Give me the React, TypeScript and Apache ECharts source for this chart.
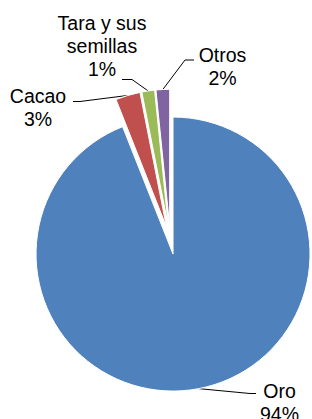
import React, { useEffect, useRef } from 'react';
import * as echarts from 'echarts';

const categories = ['Oro', 'Cacao', 'Tara y sus semillas', 'Otros'];
const shares = [94.0, 2.9, 1.5, 1.6];
const colors = ['#4F81BD', '#C0504D', '#9BBB59', '#8064A2'];

// label text box (center x, top y) and leader line bend / end points
const labelBoxes = [
  { x: 279.5, y: 379.5, bend: [250, 393.5], end: [256, 393.5] },
  { x: 38, y: 84.5, bend: [80, 101.5], end: [73, 101.5] },
  { x: 102, y: 11.5, bend: [132, 79.5], end: [122, 79.5] },
  { x: 222.5, y: 43.5, bend: [185, 60], end: [194, 60] },
];

const RADIUS = 137;
const EXPLODE = 14;
const BASE_CENTER = [170.4, 240.3];
const FONT = 'Arial, "Liberation Sans", sans-serif';

export default function App() {
  const ref = useRef<HTMLDivElement>(null);
  useEffect(() => {
    if (!ref.current) return;
    const chart = echarts.init(ref.current, undefined, { renderer: 'svg' });
    const total = shares.reduce((a, b) => a + b, 0);
    let cum = 0;
    const mids = shares.map((v) => {
      const m = ((cum + v / 2) / total) * Math.PI * 2;
      cum += v;
      return m;
    });
    const series = categories.map((_, i) => {
      const a = mids[i];
      const cx = BASE_CENTER[0] + EXPLODE * Math.sin(a);
      const cy = BASE_CENTER[1] - EXPLODE * Math.cos(a);
      const start = [cx + RADIUS * Math.sin(a), cy - RADIUS * Math.cos(a)];
      const lb = labelBoxes[i];
      return {
        type: 'pie',
        center: [cx, cy],
        radius: RADIUS,
        startAngle: 90,
        clockwise: true,
        avoidLabelOverlap: false,
        percentPrecision: 0,
        silent: true,
        emphasis: { disabled: true },
        label: {
          show: true,
          position: 'outside',
          color: '#000',
          fontSize: 19.5,
          lineHeight: 23,
          fontFamily: FONT,
          align: 'center',
          formatter: (p: any) =>
            p.name.replace('Tara y sus ', 'Tara y sus\n') + '\n' + p.percent + '%',
        },
        labelLine: { show: true, smooth: false, lineStyle: { color: '#000', width: 1 } },
        labelLayout: (p: any) =>
          p.dataIndex === i
            ? {
                x: lb.x,
                y: lb.y,
                align: 'center',
                verticalAlign: 'top',
                labelLinePoints: [start, lb.bend, lb.end],
              }
            : {},
        data: categories.map((name, j) => ({
          name,
          value: shares[j],
          itemStyle:
            j === i
              ? { color: colors[j], borderColor: '#fff', borderWidth: 1 }
              : { color: 'rgba(0,0,0,0)', borderWidth: 0 },
          label: { show: j === i },
          labelLine: { show: j === i },
        })),
      };
    });
    chart.setOption({
      animation: false,
      backgroundColor: '#fff',
      series,
    } as any);
    return () => chart.dispose();
  }, []);
  return (
    <div
      ref={ref}
      style={{ position: 'absolute', left: 0, top: 0, width: 312, height: 419 }}
    />
  );
}
